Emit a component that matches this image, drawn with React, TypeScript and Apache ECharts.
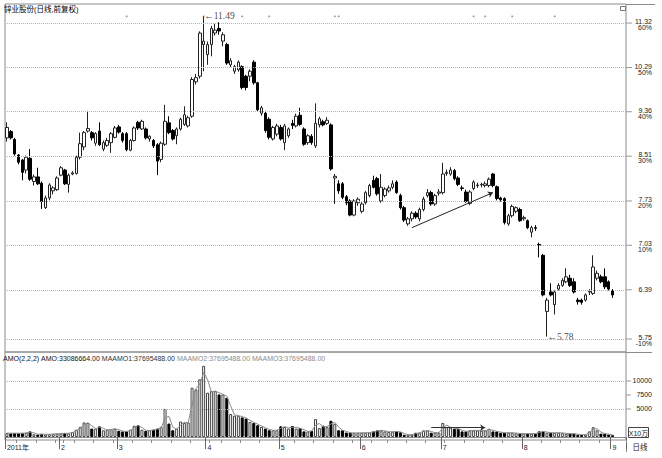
import React, { useEffect, useRef } from "react";
import * as echarts from "echarts";

// trading days (2011)
const janDays = [12, 13, 14, 17, 18, 19, 20, 21, 24, 25, 26, 27, 28, 31];
const febDays = [1, 9, 10, 11, 14, 15, 16, 17, 18, 21, 22, 23, 24, 25, 28];
const marDays = [1, 2, 3, 4, 7, 8, 9, 10, 11, 14, 15, 16, 17, 18, 21, 22, 23, 24, 25, 28, 29, 30, 31];
const aprDays = [1, 6, 7, 8, 11, 12, 13, 14, 15, 18, 19, 20, 21, 22, 25, 26, 27, 28, 29];
const mayDays = [3, 4, 5, 6, 9, 10, 11, 12, 13, 16, 17, 18, 19, 20, 23, 24, 25, 26, 27, 30, 31];
const junDays = [1, 2, 3, 7, 8, 9, 10, 13, 14, 15, 16, 17, 20, 21, 22, 23, 24, 27, 28, 29, 30];
const julDays = [1, 4, 5, 6, 7, 8, 11, 12, 13, 14, 15, 18, 19, 20, 21, 22, 25, 26, 27, 28, 29];
const augDays = [1, 2, 3, 4, 5, 8, 9, 10, 11, 12, 15, 16, 17, 18, 19, 22, 23, 24, 25, 26, 29, 30, 31];
const sepDays = [1];

const opens = [
  8.85, 8.97, 8.82, 8.53, 8.44, 8.26, 8.47, 8.06, 8.14, 8.03, 7.62, 7.78, 7.90, 7.92,
  8.17, 8.26, 8.01, 8.19, 8.20, 8.49, 8.68, 8.98, 8.95, 8.75, 8.98, 8.64, 8.71, 8.76, 8.86,
  9.06, 8.93, 8.93, 8.62, 8.80, 9.15, 9.02, 9.02, 8.83, 8.80, 8.72, 8.45, 8.73, 9.14, 8.99, 8.89, 9.02, 9.11, 9.08, 9.27, 9.98, 10.10, 10.81,
  10.58, 10.81, 11.08, 11.19, 10.89, 10.81, 10.35, 10.21, 10.24, 10.31, 10.10, 10.10, 10.41, 9.96, 9.33, 9.33, 9.21, 8.83, 8.92,
  9.05, 8.76, 8.89, 9.13, 9.08, 9.29, 9.02, 8.76, 8.88, 8.70, 9.10, 9.16, 9.13, 9.10, 8.12, 8.02, 8.02, 7.80, 7.73, 7.50, 7.70,
  7.56, 7.70, 7.82, 8.08, 8.11, 7.73, 7.82, 7.90, 7.96, 8.05, 7.82, 7.62, 7.36, 7.44, 7.53, 7.44, 7.59, 7.82, 7.87, 7.68, 7.86,
  7.87, 8.20, 8.19, 8.25, 8.12, 7.95, 7.88, 7.69, 7.94, 7.99, 8.00, 7.99, 7.99, 8.19, 7.97, 7.78, 7.77, 7.36, 7.49, 7.56, 7.59,
  7.44, 7.41, 7.23, 7.30, 7.04, 6.88, 6.10, 6.36, 6.19, 6.40, 6.45, 6.50, 6.55, 6.50, 6.25, 6.25, 6.25, 6.36, 6.34, 6.55, 6.57, 6.57, 6.50,
  6.38,
];
const closes = [
  9.05, 8.85, 8.55, 8.40, 8.22, 8.49, 8.10, 8.14, 8.02, 7.72, 7.78, 8.00, 7.95, 8.12,
  8.30, 8.02, 8.17, 8.21, 8.49, 8.74, 8.95, 9.03, 8.85, 8.93, 8.72, 8.76, 8.80, 8.93, 9.04,
  8.96, 8.80, 8.63, 8.80, 9.04, 9.04, 9.17, 8.85, 8.88, 8.70, 8.42, 8.75, 9.17, 8.95, 8.83, 9.02, 9.21, 9.30, 9.24, 10.03, 10.07, 11.08, 10.89,
  10.81, 11.19, 11.15, 11.13, 11.04, 10.39, 10.44, 10.31, 10.41, 9.86, 9.86, 10.21, 9.96, 9.40, 9.44, 8.99, 8.86, 9.05, 9.08,
  8.83, 9.08, 9.02, 9.09, 9.27, 9.11, 8.73, 8.89, 8.76, 9.13, 9.22, 9.10, 9.19, 8.28, 8.15, 7.90, 7.79, 7.70, 7.50, 7.73, 7.76,
  7.68, 7.87, 7.99, 7.96, 7.85, 7.96, 7.93, 7.95, 8.02, 7.87, 7.62, 7.42, 7.44, 7.53, 7.47, 7.59, 7.76, 7.87, 7.68, 7.82, 7.88,
  8.19, 8.22, 8.26, 8.11, 8.01, 7.94, 7.72, 7.88, 8.05, 8.00, 8.01, 8.02, 8.10, 7.99, 7.77, 7.75, 7.38, 7.49, 7.64, 7.62, 7.41,
  7.46, 7.30, 7.30, 7.29, 7.03, 6.32, 6.25, 6.32, 6.36, 6.45, 6.52, 6.57, 6.45, 6.36, 6.23, 6.22, 6.32, 6.37, 6.71, 6.62, 6.50, 6.43, 6.40,
  6.32,
];
const lows = [
  8.78, 8.82, 8.52, 8.36, 8.08, 8.20, 8.07, 7.99, 8.00, 7.60, 7.60, 7.74, 7.84, 7.90,
  8.15, 8.00, 7.87, 8.17, 8.18, 8.45, 8.62, 8.95, 8.80, 8.70, 8.70, 8.60, 8.68, 8.57, 8.84,
  8.93, 8.76, 8.60, 8.60, 8.78, 9.00, 9.00, 8.82, 8.78, 8.66, 8.17, 8.40, 8.70, 8.92, 8.80, 8.73, 8.99, 9.08, 9.05, 9.24, 9.92, 10.05, 10.21,
  10.35, 10.54, 11.02, 11.04, 10.77, 10.35, 10.30, 10.15, 10.20, 9.82, 9.80, 9.99, 9.92, 9.36, 9.28, 8.95, 8.82, 8.80, 8.88,
  8.80, 8.62, 8.85, 9.02, 9.05, 9.08, 8.70, 8.72, 8.72, 8.66, 9.05, 9.07, 9.10, 8.25, 7.68, 7.85, 7.76, 7.66, 7.48, 7.48, 7.65,
  7.53, 7.67, 7.79, 7.94, 7.82, 7.70, 7.79, 7.87, 7.93, 7.85, 7.59, 7.39, 7.33, 7.40, 7.44, 7.40, 7.56, 7.79, 7.65, 7.65, 7.82,
  7.84, 8.16, 8.16, 8.08, 7.98, 7.90, 7.70, 7.66, 7.91, 7.95, 7.96, 7.96, 7.96, 7.96, 7.74, 7.72, 7.35, 7.33, 7.46, 7.53, 7.39,
  7.41, 7.28, 7.15, 7.25, 6.85, 6.30, 5.78, 6.30, 6.06, 6.38, 6.43, 6.48, 6.43, 6.34, 6.19, 6.19, 6.23, 6.32, 6.32, 6.52, 6.48, 6.40, 6.38,
  6.28,
];
const highs = [
  9.15, 9.00, 8.85, 8.55, 8.46, 8.52, 8.64, 8.18, 8.30, 8.06, 7.82, 8.03, 7.98, 8.15,
  8.33, 8.28, 8.20, 8.24, 8.52, 8.95, 8.98, 9.38, 8.98, 8.96, 9.15, 8.80, 8.85, 8.96, 9.08,
  9.10, 8.96, 8.96, 8.83, 9.07, 9.18, 9.20, 9.05, 8.90, 8.83, 8.75, 8.78, 9.50, 9.27, 9.02, 9.05, 9.24, 9.47, 9.28, 10.08, 10.15, 11.12, 11.49,
  10.88, 11.25, 11.30, 11.34, 11.10, 10.85, 10.50, 10.35, 10.45, 10.34, 10.13, 10.25, 10.45, 9.98, 9.48, 9.38, 9.25, 9.08, 9.12,
  9.10, 9.12, 9.05, 9.20, 9.32, 9.44, 9.05, 8.92, 8.92, 9.53, 9.26, 9.20, 9.25, 9.13, 8.19, 8.08, 8.05, 7.83, 7.76, 7.76, 7.79,
  7.71, 7.90, 8.02, 8.16, 8.14, 8.19, 7.96, 7.99, 8.08, 8.08, 7.85, 7.65, 7.47, 7.56, 7.56, 7.62, 7.80, 7.93, 7.90, 7.85, 7.93,
  8.39, 8.27, 8.31, 8.28, 8.15, 7.99, 7.92, 7.91, 8.08, 8.04, 8.04, 8.06, 8.13, 8.21, 7.99, 7.80, 7.79, 7.52, 7.67, 7.64, 7.62,
  7.49, 7.43, 7.33, 7.34, 7.07, 6.90, 6.28, 6.48, 6.38, 6.48, 6.55, 6.69, 6.60, 6.55, 6.28, 6.27, 6.34, 6.40, 6.88, 6.66, 6.60, 6.69, 6.52,
  6.40,
];
// AMO in units of 10万
const amounts = [
  700, 650, 700, 650, 700, 750, 1000, 500, 450, 550, 450, 500, 550, 600,
  600, 700, 650, 900, 1300, 1800, 2600, 2500, 1500, 1500, 1900, 1200, 1300, 1400, 1500,
  1100, 1000, 1000, 1300, 2000, 2100, 1300, 1100, 1200, 1300, 1500, 1800, 5000, 2400, 1200, 1500, 2750, 2500, 2600, 8800, 8500, 10300, 12700,
  7900, 8200, 8200, 7600, 7600, 7000, 4100, 3800, 3800, 3500, 3300, 2700, 2500, 2100, 1800, 1500, 1200, 1200, 1200,
  1900, 1800, 1500, 1950, 1500, 1600, 1000, 1000, 1100, 3200, 1600, 2000, 1760, 2900, 2350, 1200, 1200, 800, 750, 700, 750,
  760, 760, 800, 1000, 1180, 1180, 1000, 900, 950, 1000, 850, 400, 450, 400, 760, 760, 1180, 1180, 760, 800, 760,
  2500, 1760, 1700, 1470, 1470, 1000, 1000, 1180, 1180, 1180, 1100, 1180, 1470, 1000, 1000, 760, 760, 760, 760, 650, 600,
  600, 600, 600, 600, 1000, 1000, 760, 760, 760, 760, 700, 600, 600, 600, 400, 400, 450, 1000, 1760, 1180, 600, 600, 424,
  331,
];

const priceTicks = [11.32, 10.29, 9.36, 8.51, 7.73, 7.03, 6.39, 5.75];
const pctTicks = ["60%", "50%", "40%", "30%", "20%", "10%", "", "-10%"];
const volLabelTicks = [10000, 7500, 5000];
const volGridTicks = [10000, 5000];
const markerIdx = [31, 51, 61, 68, 85, 86, 121, 124, 131, 142];
const markerLevel = 11.45;
const peakPoint = [51, 11.49];
const troughPoint = [140, 5.78];
const trendStart = [105, 7.3];
const trendEnd = [126, 7.87];
const volArrowStart = [110, 1660];
const volArrowEnd = [124, 1660];
const titleText = "锌业股份(日线,前复权)";

const FONT = "'Liberation Sans', Arial, 'Noto Sans CJK SC', sans-serif";

export default function App() {
  const ref = useRef<HTMLDivElement>(null);
  useEffect(() => {
    document.body.style.margin = "0";
    const chart = echarts.init(ref.current!, undefined, { renderer: "svg" });

    const months = [janDays, febDays, marDays, aprDays, mayDays, junDays, julDays, augDays, sepDays];
    const dates: string[] = [];
    months.forEach((days, m) => days.forEach((d) => dates.push(`2011-${String(m + 1).padStart(2, "0")}-${String(d).padStart(2, "0")}`)));
    const cats = [...dates, " ", "  ", "   "];
    const monthStart = cats.map((c, i) => i < dates.length && (i === 0 || c.slice(5, 7) !== cats[i - 1].slice(5, 7)));
    const weekStart = cats.map((c, i) => {
      if (i === 0 || i >= dates.length) return false;
      const a = new Date(c + "T00:00:00");
      const b = new Date(cats[i - 1] + "T00:00:00");
      return a.getDay() < b.getDay() || (a.getTime() - b.getTime()) / 86400000 > 6;
    });

    const ohlc = opens.map((o, i) => [o, closes[i], lows[i], highs[i]]);
    const volData = amounts.map((v, i) => {
      const up = closes[i] >= opens[i];
      return {
        value: v,
        itemStyle: up
          ? { color: "#fff", borderColor: "#444", borderWidth: 1 }
          : { color: "#000", borderColor: "#000", borderWidth: 1 },
      };
    });
    const ma2 = amounts.map((v, i) => (i === 0 ? v : (v + amounts[i - 1]) / 2));

    const dotted = { type: "dotted", color: "#b4b4b4", width: 1 };

    chart.setOption({
      animation: false,
      textStyle: { fontFamily: FONT },
      grid: [
        { left: 5, right: 36, top: 4, height: 348, show: true, borderColor: "#8a8a8a", borderWidth: 1 },
        { left: 5, right: 36, top: 352, height: 88, show: true, borderColor: "#8a8a8a", borderWidth: 1 },
      ],
      xAxis: [
        {
          type: "category", gridIndex: 0, data: cats, boundaryGap: true,
          axisLine: { show: false }, axisTick: { show: false }, axisLabel: { show: false }, splitLine: { show: false },
        },
        {
          type: "category", gridIndex: 1, data: cats, boundaryGap: true, position: "bottom",
          axisLine: { show: true, lineStyle: { color: "#8a8a8a" } },
          axisTick: { show: true, interval: (i: number) => monthStart[i], length: 12, lineStyle: { color: "#666" } },
          axisLabel: {
            show: true,
            interval: (i: number) => monthStart[i],
            formatter: (v: string, i: number) => (i === 0 ? "2011年" : String(Number(v.slice(5, 7)))),
            fontSize: 7, color: "#222", align: "left", margin: 4,
          },
          splitLine: { show: false },
        },
        {
          type: "category", gridIndex: 1, data: cats, boundaryGap: true, position: "bottom",
          axisLine: { show: false },
          axisTick: { show: true, interval: (i: number) => weekStart[i] && !monthStart[i], length: 3, lineStyle: { color: "#888" } },
          axisLabel: { show: false }, splitLine: { show: false },
        },
      ],
      yAxis: [
        {
          type: "log", logBase: 10, gridIndex: 0, min: 5.592, max: 11.792, position: "right",
          axisLine: { show: false }, axisTick: { show: false }, axisLabel: { show: false }, splitLine: { show: false },
        },
        {
          type: "value", gridIndex: 1, min: -536, max: 15178, position: "right",
          axisLine: { show: false }, axisTick: { show: false }, axisLabel: { show: false }, splitLine: { show: false },
        },
      ],
      series: [
        {
          type: "candlestick", xAxisIndex: 0, yAxisIndex: 0, data: ohlc, barWidth: 3,
          itemStyle: { color: "#fff", color0: "#000", borderColor: "#222", borderColor0: "#000", borderWidth: 1 },
          markLine: {
            silent: true, symbol: ["none", "none"], label: { show: false },
            data: [
              ...priceTicks.map((v) => ({ yAxis: v, lineStyle: dotted })),
              [
                { coord: trendStart, symbol: "none", lineStyle: { type: "solid", color: "#222", width: 1 } },
                { coord: trendEnd, symbol: "arrow", symbolSize: 5, lineStyle: { type: "solid", color: "#222", width: 1 } },
              ],
            ],
          },
        },
        {
          type: "scatter", xAxisIndex: 0, yAxisIndex: 0, data: markerIdx.map((i) => [i, markerLevel]),
          symbolSize: 1, itemStyle: { color: "rgba(0,0,0,0)" },
          label: { show: true, formatter: "*", position: "inside", color: "#666", fontSize: 7 },
        },
        {
          type: "scatter", xAxisIndex: 0, yAxisIndex: 0,
          data: [
            { value: peakPoint, label: { formatter: "←" + peakPoint[1].toFixed(2) } },
            { value: troughPoint, label: { formatter: "←" + troughPoint[1].toFixed(2) } },
          ],
          symbolSize: 1, itemStyle: { color: "rgba(0,0,0,0)" },
          label: { show: true, position: "right", distance: 0, color: "#111", fontFamily: "'Liberation Serif', serif", fontSize: 9.5 },
        },
        {
          type: "bar", xAxisIndex: 1, yAxisIndex: 1, data: volData, barWidth: 3,
          markLine: {
            silent: true, symbol: ["none", "none"], label: { show: false },
            data: [
              ...volGridTicks.map((v) => ({ yAxis: v, lineStyle: dotted })),
              [
                { coord: volArrowStart, symbol: "none", lineStyle: { type: "solid", color: "#333", width: 1 } },
                { coord: volArrowEnd, symbol: "arrow", symbolSize: 5, lineStyle: { type: "solid", color: "#333", width: 1 } },
              ],
            ],
          },
        },
        {
          type: "line", xAxisIndex: 1, yAxisIndex: 1, data: ma2, symbol: "none",
          lineStyle: { color: "#8a8a8a", width: 1 },
        },
      ],
    });

    const gfx: any[] = [];
    const txt = (x: number, y: number, text: string, extra: any = {}) => ({
      type: "text", x, y, silent: true,
      style: { text, fill: "#222", fontSize: 7, fontFamily: FONT, align: "right", verticalAlign: "middle", ...extra },
    });
    const line = (x1: number, y1: number, x2: number, y2: number, color = "#8a8a8a") => ({
      type: "line", silent: true, shape: { x1, y1, x2, y2 }, style: { stroke: color, lineWidth: 1 },
    });

    priceTicks.forEach((v, k) => {
      const y = chart.convertToPixel({ yAxisIndex: 0 }, v) as number;
      gfx.push(line(626, y, 632, y, "#999"));
      if (pctTicks[k]) {
        gfx.push(txt(652, y - 1.5, v.toFixed(2)));
        gfx.push(txt(652, y + 4.5, pctTicks[k]));
      } else {
        gfx.push(txt(652, y, v.toFixed(2)));
      }
    });
    volLabelTicks.forEach((v) => {
      const y = chart.convertToPixel({ yAxisIndex: 1 }, v) as number;
      gfx.push(line(626, y, 631, y, "#999"));
      gfx.push(txt(652, y, String(v)));
    });

    gfx.push(line(626, 4.5, 655, 4.5));
    gfx.push(line(626, 352.5, 652, 352.5));
    gfx.push(line(626.5, 440, 626.5, 452));
    gfx.push({ type: "rect", silent: true, shape: { x: 620.5, y: 6.5, width: 5, height: 4 }, style: { fill: "#fff", stroke: "#777", lineWidth: 1 } });
    gfx.push({ type: "rect", silent: true, shape: { x: 628.5, y: 427.5, width: 20, height: 10 }, style: { fill: "#fff", stroke: "#444", lineWidth: 1 } });
    gfx.push(txt(638.5, 433, "X10万", { align: "center", fontSize: 7 }));
    gfx.push(txt(640, 447, "日线", { align: "center", fontSize: 7.5 }));
    gfx.push(txt(4, 9.5, titleText, { align: "left", fontSize: 7.5, fill: "#000" }));
    gfx.push({
      type: "text", x: 3, y: 358, silent: true,
      style: {
        text: "{a|AMO(2,2,2)} {a|AMO:33086664.00} {b|MAAMO1:37695488.00} {c|MAAMO2:37695488.00} {c|MAAMO3:37695488.00}",
        verticalAlign: "middle", align: "left", fontSize: 7, fontFamily: FONT,
        rich: {
          a: { fill: "#111", fontSize: 7, fontFamily: FONT },
          b: { fill: "#333", fontSize: 7, fontFamily: FONT },
          c: { fill: "#8c8c8c", fontSize: 7, fontFamily: FONT },
        },
      },
    });

    chart.setOption({ graphic: gfx });
    return () => chart.dispose();
  }, []);
  return <div ref={ref} style={{ width: 662, height: 458 }} />;
}
